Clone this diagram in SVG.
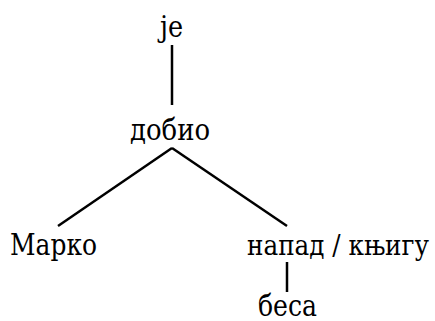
<svg xmlns="http://www.w3.org/2000/svg" width="435" height="321" viewBox="0 0 435 321">
  <style>
    .lbl { font-family: 'DejaVu Serif Condensed', 'DejaVu Serif', 'Liberation Serif', serif; font-size: 29.5px; fill: #000; text-anchor: middle; }
    .edge { stroke: #000; stroke-width: 2.5; fill: none; }
  </style>
  <rect width="435" height="321" fill="#fff"/>
  <g id="connectors">
    <line class="edge" x1="172" y1="45" x2="172" y2="105"/>
    <line class="edge" x1="172" y1="148" x2="58" y2="226"/>
    <line class="edge" x1="172" y1="148" x2="287" y2="226"/>
    <line class="edge" x1="287" y1="262" x2="287" y2="292"/>
  </g>
  <g id="node-je"><text class="lbl" x="171.5" y="37" textLength="23" lengthAdjust="spacingAndGlyphs">je</text></g>
  <g id="node-dobio"><text class="lbl" x="170" y="140" textLength="80" lengthAdjust="spacingAndGlyphs">добио</text></g>
  <g id="node-marko"><text class="lbl" x="53.5" y="255" textLength="87" lengthAdjust="spacingAndGlyphs">Марко</text></g>
  <g id="node-napad"><text class="lbl" x="338" y="255" style="font-size:28.5px" textLength="182" lengthAdjust="spacingAndGlyphs">напад / књигу</text></g>
  <g id="node-besa"><text class="lbl" x="287.5" y="315.5" textLength="59" lengthAdjust="spacingAndGlyphs">беса</text></g>
</svg>
